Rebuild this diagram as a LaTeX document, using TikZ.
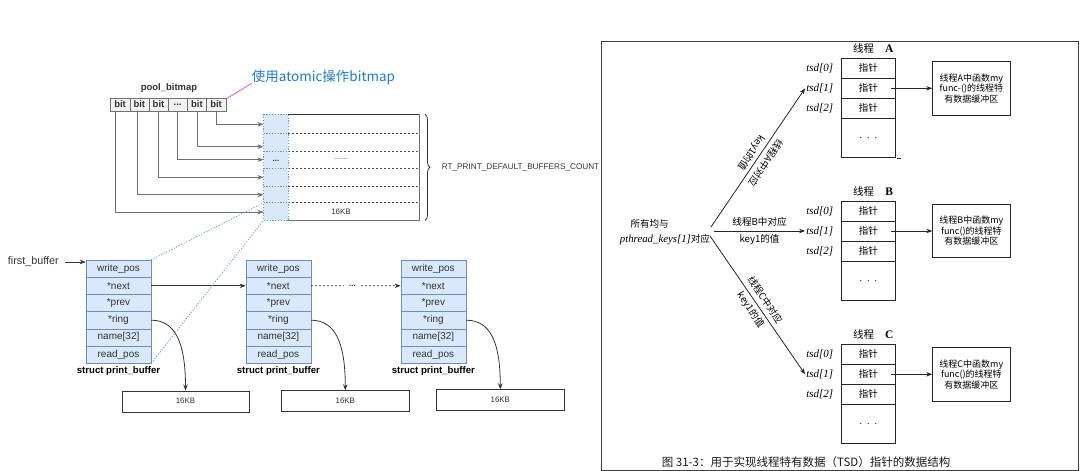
\documentclass[tikz,border=0pt]{standalone}
\usepackage{fontspec}
\setsansfont{Liberation Sans}
\newfontfamily\cjk{Noto Sans CJK SC}
\newfontfamily\bookserif{Liberation Serif}
\usetikzlibrary{arrows.meta,decorations.pathreplacing}
\newcommand{\fsz}[2]{\fontsize{#1}{#2}\selectfont}
\newcommand{\threedots}{...}
\definecolor{fieldfill}{HTML}{DAE8FC}
\definecolor{fieldblue}{HTML}{6C8EBF}
\definecolor{dotblue}{HTML}{5B9BE0}
\definecolor{atomicblue}{HTML}{1F78D1}
\definecolor{bitfill}{HTML}{F2F2F2}
\definecolor{linegray}{HTML}{707070}
\definecolor{dark}{HTML}{333333}
\definecolor{mag}{HTML}{E040E0}
\tikzset{
  bitcell/.style={draw=linegray, fill=bitfill, minimum width=19.2pt, minimum height=13.3pt, inner sep=0pt, text=dark, font=\sffamily\bfseries\fsz{9.5}{11}},
  field/.style={draw=fieldblue, fill=fieldfill, minimum width=65pt, minimum height=17.2pt, inner sep=0pt, text=dark, font=\sffamily\fsz{10}{11}},
  structlbl/.style={inner sep=3pt, text=black, font=\sffamily\bfseries\fsz{9.6}{11}},
  kbbox/.style={draw=dark, minimum width=127.6pt, minimum height=21pt, inner sep=0pt, text=dark, font=\sffamily\fsz{7.9}{9}},
  bmline/.style={draw=linegray, line width=0.7pt},
  conn/.style={draw=dark, line width=0.8pt},
  bluedot/.style={draw=dotblue, line width=0.8pt, dash pattern=on 1.2pt off 1.6pt},
  dashpat/.style={draw=dark, line width=0.7pt, dash pattern=on 2pt off 2pt},
  cell/.style={draw=black!85, line width=0.9pt, minimum width=53.3pt, minimum height=20pt, inner sep=0pt, font=\cjk\fsz{9.5}{11}},
  dotcell/.style={cell, minimum height=39.4pt, font=\bookserif\fsz{10}{11}},
  tbox/.style={draw=black!85, line width=0.9pt, minimum width=77.3pt, minimum height=53.3pt, inner sep=0pt, align=center, font=\cjk\fsz{9}{10.5}},
  tsdlbl/.style={anchor=east, inner sep=1pt, font=\bookserif\itshape\fsz{11}{12}},
  hdr/.style={inner sep=0pt, font=\cjk\fsz{10.5}{12}},
  arrlbl/.style={inner sep=0pt, align=center, font=\cjk\fsz{9.6}{17}},
  rconn/.style={draw=black!85, line width=0.8pt}
}
\begin{document}
\begin{tikzpicture}[x=1pt,y=-1pt,>={Stealth[length=6pt,width=4.5pt]}]
\useasboundingbox (0,0) rectangle (1080,471);

% ---------------- left: pool bitmap ----------------
\node[inner sep=0pt, text=dark, font=\sffamily\bfseries\fsz{9.5}{11}] (poolbm) at (169,88) {pool\_bitmap};
\foreach \i/\x/\t in {1/120.1/bit,2/139.35/bit,3/158.5/bit,4/177.65/\threedots,5/196.9/bit,6/216.1/bit}
  \node[bitcell] (b\i) at (\x,104.35) {\t};
\node[anchor=west, inner sep=0pt, text=atomicblue, font=\cjk\fsz{13.5}{15}] (atomic) at (251.7,77.7) {使用atomic操作bitmap};
\draw[mag, line width=0.7pt] ([yshift=-1.6pt]b6.north east) -- ([yshift=-5.6pt]atomic.west);

% buffer block
\fill[fieldfill] (263.5,114.3) rectangle (288.3,220.3);
\foreach \y in {133.3,151.7,168.3,186,202.7} {
  \draw[dashpat, draw=black!70] (288.3,\y) -- (419.3,\y);
  \draw[bluedot] (263.5,\y) -- (288.3,\y);
}
\draw[linegray, line width=0.8pt] (288.3,114.3) -- (419.3,114.3) -- (419.3,220.3) -- (288.3,220.3);
\draw[dark, line width=0.9pt] (288.3,114.3) -- (419.3,114.3);
\draw[bluedot] (263.5,114.3) rectangle (288.3,220.3);
\node[inner sep=0pt, font=\sffamily\bfseries\fsz{8}{9}, text=dark] (cdots) at (275.9,160.5) {...};
\node[inner sep=0pt, font=\sffamily\fsz{7}{8}, text=dark] (rdots) at (341,159) {.......};
\node[inner sep=0pt, font=\sffamily\fsz{7.9}{9}, text=dark] (kb0) at (341,212) {16KB};

\coordinate (r1) at (263.5,124.3);
\coordinate (r2) at (263.5,146.7);
\coordinate (r3) at (263.5,159.7);
\coordinate (r4) at (263.5,177.3);
\coordinate (r5) at (263.5,194.7);
\coordinate (r6) at (263.5,212);
\draw[bmline,->] (b6.south) |- (r1);
\draw[bmline,->] (b5.south) |- (r2);
\draw[bmline,->] (b4.south) |- (r3);
\draw[bmline,->] (b3.south) |- (r4);
\draw[bmline,->] ([xshift=-2pt]b2.south) |- (r5);
\draw[bmline,->] ([xshift=-4.8pt]b1.south) |- (r6);

\draw[dark, line width=0.8pt, decorate, decoration={brace, amplitude=5pt}] (425,114.3) -- (425,220.3);
\node[anchor=west, inner sep=0pt, text=dark, font=\sffamily\fsz{8.2}{9}] (cnt) at (441.7,167) {RT\_PRINT\_DEFAULT\_BUFFERS\_COUNT};

% ---------------- left: structs ----------------
\foreach \s/\x in {1/118.5,2/278.35,3/433.35} {
  \foreach \t [count=\k] in {write\_pos,*next,*prev,*ring,name[32],read\_pos}
    \node[field] (s\s-\k) at (\x,{251.4+17.2*\k}) {\t};
  \node[structlbl, anchor=north] (lbl\s) at (s\s-6.south) {struct print\_buffer};
}
\node[anchor=east, inner sep=0pt, text=dark, font=\sffamily\fsz{10.8}{12}] (fb) at (59,262) {first\_buffer};
\draw[conn,->] ([xshift=6pt]fb.east) -- (fb.east -| s1-1.west);
\draw[conn,->] (s1-2.east) -- (s2-2.west);
\node[inner sep=5pt, font=\sffamily\bfseries\fsz{8}{9}, text=dark] (ell) at (352.5,285.8) {...};
\draw[dashpat] (s2-2.east) -- (ell.west);
\draw[dashpat,->] (ell.east) -- (s3-2.west);

\node[kbbox] (kb1) at (185.5,401.2) {16KB};
\node[kbbox] (kb2) at (345.3,401) {16KB};
\node[kbbox] (kb3) at (500.3,400) {16KB};
\draw[conn,->] (s1-4.east) .. controls +(24,0) and +(0,-48) .. (kb1.north);
\draw[conn,->] (s2-4.east) .. controls +(24,0) and +(0,-48) .. (kb2.north);
\draw[conn,->] (s3-4.east) .. controls +(24,0) and +(0,-48) .. (kb3.north);

\coordinate (c6t) at (263.5,202.7);
\coordinate (c6b) at (263.5,220.3);
\draw[bluedot] (s1-1.north east) -- (c6t);
\draw[bluedot] (s1-6.south east) -- (c6b);

% ---------------- right panel ----------------
\draw[black!75, line width=1pt] (601.7,41) rectangle (1078.3,470);

\foreach \T/\top/\fn in {A/58.3/func-(),B/201/func(),C/344.3/func()} {
  \node[hdr] (h\T) at (863.5,\top-9.5) {线程};
  \node[inner sep=0pt, font=\bookserif\bfseries\fsz{11.5}{12}] (L\T) at (889.3,\top-9.5) {\T};
  \foreach \i in {0,1,2} {
    \node[cell] (t\T\i) at (868.35,{\top+10+20*\i}) {指针};
    \node[tsdlbl] (d\T\i) at (834.4,{\top+10+20*\i}) {tsd[\i]};
  }
  \node[dotcell] (t\T d) at (868.35,\top+79.7) {.\,\,\,.\,\,\,.};
  \node[tbox] (bx\T) at (971.35,\top+30) {线程\T 中函数my\\\fn 的线程特\\有数据缓冲区};
  \draw[rconn,->] ([xshift=-4pt]t\T1.east) -- (bx\T.west);
}
\draw[black!85, line width=0.6pt] ([xshift=2pt]tAd.south east) -- ([xshift=6pt]tAd.south east);

\node[inner sep=0pt, font=\cjk\fsz{9.5}{11}] (src1) at (649.5,224.3) {所有均与};
\node[inner sep=0pt] (src2) at (665,240) {{\bookserif\itshape\fsz{10.8}{12}pthread\_keys[1]}{\cjk\fsz{9.6}{11}对应}};
\coordinate (o1) at (711,227);
\coordinate (o2) at (714,231);
\coordinate (o3) at (710,236);
\draw[rconn,->] (o1) -- (dA1.west) node[midway, arrlbl, rotate=-123.5] {线程A中对应\\key1的值};
\draw[rconn,->] (o2) -- (dB1.west) node[midway, arrlbl] {线程B中对应\\key1的值};
\draw[rconn,->] (o3) -- (dC1.west) node[midway, arrlbl, rotate=-56.5] {线程C中对应\\key1的值};

\node[anchor=west, inner sep=0pt, text=black!90, font=\cjk\fsz{11.5}{13}] (cap) at (661.7,461.7) {图 31-3：用于实现线程特有数据（TSD）指针的数据结构};
\end{tikzpicture}
\end{document}
